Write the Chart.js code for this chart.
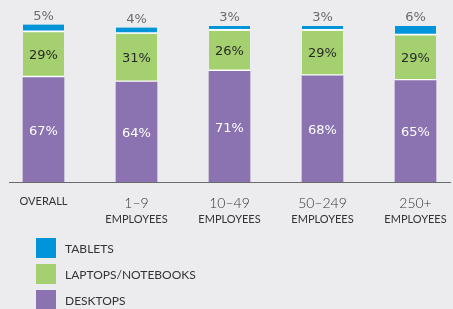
<!DOCTYPE html>
<html>
<head>
<meta charset="utf-8">
<script src="https://cdn.jsdelivr.net/npm/chart.js@4/dist/chart.umd.min.js"></script>
<style>
  html, body { margin: 0; padding: 0; background: #ececee; }
  #wrap { position: relative; width: 453px; height: 309px; background: #ececee; overflow: hidden; }
  #legend { position: absolute; left: 36px; top: 238px; font-family: Lato, sans-serif; font-size: 12px; color: #333; }
  .item { display: flex; align-items: center; height: 20px; margin-bottom: 6px; }
  .sw { width: 20px; height: 20px; margin-right: 9px; }
</style>
</head>
<body>
<div id="wrap">
  <canvas id="c" width="453" height="309"></canvas>
  <div id="legend"></div>
</div>
<script>
const categories = ['OVERALL', '1–9', '10–49', '50–249', '250+'];
const secondLine = ['', 'EMPLOYEES', 'EMPLOYEES', 'EMPLOYEES', 'EMPLOYEES'];
const desktops = [67, 64, 71, 68, 65];
const laptops = [29, 31, 26, 29, 29];
const tablets = [5, 4, 3, 3, 6];
const seriesNames = ['DESKTOPS', 'LAPTOPS/NOTEBOOKS', 'TABLETS'];

const colors = ['#8a73b0', '#a4d06f', '#0095d8'];
const toPoints = arr => arr.map((v, i) => ({ x: i, y: v }));
const xMin = -0.371, xMax = 4.371;

const valueLabels = {
  id: 'valueLabels',
  afterDatasetsDraw(chart) {
    const ctx = chart.ctx;
    ctx.save();
    ctx.textAlign = 'center';
    ctx.textBaseline = 'middle';
    chart.data.datasets.forEach((ds, di) => {
      const meta = chart.getDatasetMeta(di);
      meta.data.forEach((el, i) => {
        const v = ds.data[i].y;
        const txt = v + '%';
        ctx.font = '13px "DejaVu Sans", sans-serif';
        if (di === 2) {
          ctx.fillStyle = '#6a6a6a';
          ctx.fillText(txt, el.x, el.y - 8);
        } else {
          ctx.fillStyle = di === 0 ? '#ffffff' : '#2a2a2a';
          const bottom = di === 1 ? el.base - 2 : el.base;
          ctx.fillText(txt, el.x, (el.y + bottom) / 2 + 1.5);
        }
      });
    });
    ctx.restore();
  }
};

const fixedTicks = scale => { scale.ticks = categories.map((c, i) => ({ value: i })); };
const fixFit = h => scale => { scale.paddingLeft = 0; scale.paddingRight = 0; scale.height = h; };

const chart = new Chart(document.getElementById('c'), {
  type: 'bar',
  data: {
    datasets: [
      { label: seriesNames[0], data: toPoints(desktops), backgroundColor: colors[0], borderWidth: 0 },
      { label: seriesNames[1], data: toPoints(laptops), backgroundColor: colors[1], borderColor: '#ffffff',
        borderWidth: { top: 0, left: 0, right: 0, bottom: 2 }, borderSkipped: false },
      { label: seriesNames[2], data: toPoints(tablets), backgroundColor: colors[2], borderColor: '#ffffff',
        borderWidth: { top: 0, left: 0, right: 0, bottom: 2 }, borderSkipped: false }
    ]
  },
  options: {
    responsive: false,
    devicePixelRatio: 1,
    animation: false,
    layout: { padding: { left: 9, right: 3, top: 0, bottom: 83 } },
    datasets: { bar: { barThickness: 41 } },
    plugins: { legend: { display: false }, tooltip: { enabled: false } },
    scales: {
      x: {
        type: 'linear', min: xMin, max: xMax, offset: false, stacked: true, weight: 0,
        afterBuildTicks: fixedTicks,
        afterFit: fixFit(28),
        grid: { display: false, drawTicks: false, offset: false },
        border: { display: true, color: '#6a6a6a', width: 1 },
        ticks: {
          autoSkip: false, maxRotation: 0, padding: 13, color: '#333',
          font: ctx => (ctx.index === 0 ? { family: 'Lato', size: 11 } : { family: 'Lato', size: 14, weight: 300 }),
          callback: (v) => categories[Math.round(v)] ?? ''
        }
      },
      x2: {
        type: 'linear', position: 'bottom', min: xMin, max: xMax, offset: false, weight: 1,
        afterBuildTicks: fixedTicks,
        afterFit: fixFit(16),
        grid: { display: false, drawTicks: false, offset: false },
        border: { display: false },
        ticks: {
          autoSkip: false, maxRotation: 0, padding: 3, color: '#333',
          font: { family: 'Lato', size: 11 },
          callback: (v) => secondLine[Math.round(v)] ?? ''
        }
      },
      y: { stacked: true, min: 0, max: 116.7, display: false }
    }
  },
  plugins: [valueLabels]
});

const legend = document.getElementById('legend');
chart.data.datasets.slice().reverse().forEach(ds => {
  const item = document.createElement('div');
  item.className = 'item';
  const sw = document.createElement('span');
  sw.className = 'sw';
  sw.style.background = ds.backgroundColor;
  const t = document.createElement('span');
  t.textContent = ds.label;
  item.appendChild(sw);
  item.appendChild(t);
  legend.appendChild(item);
});
</script>
</body>
</html>
